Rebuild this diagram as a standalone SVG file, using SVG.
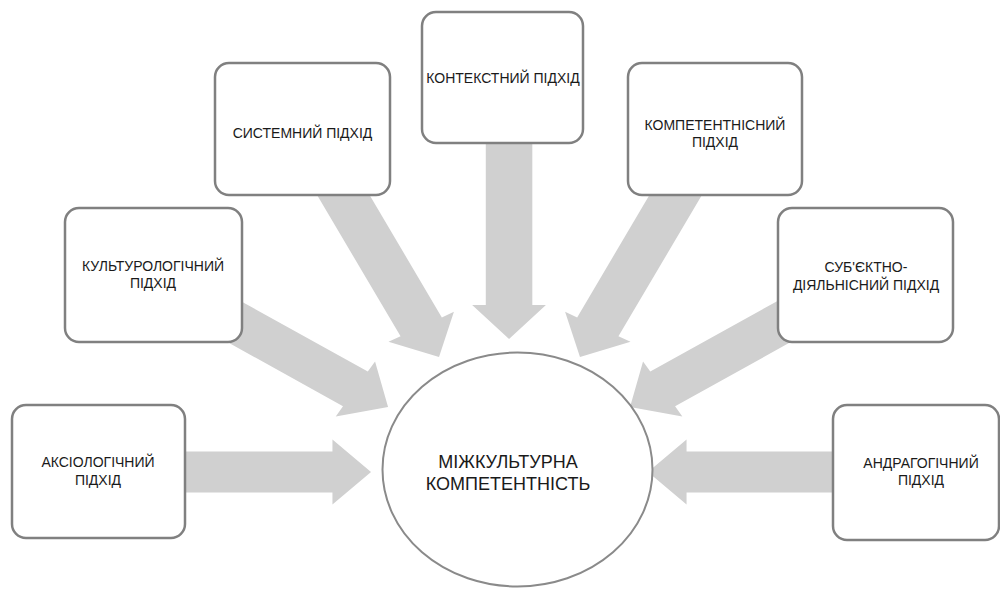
<svg xmlns="http://www.w3.org/2000/svg" width="1000" height="589" viewBox="0 0 1000 589">
<style>
.arr{fill:#d0d0d0;}
.box{fill:#ffffff;stroke:#808080;stroke-width:2.5;}
.hub{fill:#ffffff;stroke:#8a8a8a;stroke-width:2;}
.t{font-family:"Liberation Sans",Arial,sans-serif;font-size:14px;fill:#1a1a1a;text-anchor:middle;}
.tc{font-family:"Liberation Sans",Arial,sans-serif;font-size:18px;fill:#1a1a1a;text-anchor:middle;}
</style>
<rect width="1000" height="589" fill="#ffffff"/>
<g id="connectors" transform="scale(1.135 1)">
  <path class="arr" transform="translate(326.9 472)" d="M0,0 L-34,-32.5 L-34,-20.5 L-180,-20.5 L-180,20.5 L-34,20.5 L-34,32.5 Z"/>
  <path class="arr" transform="translate(570.9 472) rotate(180)" d="M0,0 L-34,-32.5 L-34,-20.5 L-180,-20.5 L-180,20.5 L-34,20.5 L-34,32.5 Z"/>
  <path class="arr" transform="translate(341.9 407) rotate(32.2)" d="M0,0 L-34,-32.5 L-34,-20.5 L-175,-20.5 L-175,20.5 L-34,20.5 L-34,32.5 Z"/>
  <path class="arr" transform="translate(555.1 407) rotate(147.8)" d="M0,0 L-34,-32.5 L-34,-20.5 L-175,-20.5 L-175,20.5 L-34,20.5 L-34,32.5 Z"/>
  <path class="arr" transform="translate(386.8 357) rotate(62.5)" d="M0,0 L-34,-32.5 L-34,-20.5 L-199.5,-20.5 L-199.5,20.5 L-34,20.5 L-34,32.5 Z"/>
  <path class="arr" transform="translate(511 357) rotate(117.5)" d="M0,0 L-34,-32.5 L-34,-20.5 L-199.5,-20.5 L-199.5,20.5 L-34,20.5 L-34,32.5 Z"/>
  <path class="arr" transform="translate(448.5 339) rotate(90)" d="M0,0 L-34,-32.5 L-34,-20.5 L-209,-20.5 L-209,20.5 L-34,20.5 L-34,32.5 Z"/>
</g>
<g id="node-aksiolohichnyi">
  <rect class="box" x="12" y="405" width="173" height="133" rx="14"/>
  <text class="t" x="98" y="467">АКСІОЛОГІЧНИЙ</text>
  <text class="t" x="98" y="485">ПІДХІД</text>
</g>
<g id="node-kulturolohichnyi">
  <rect class="box" x="65" y="208" width="177" height="134" rx="14"/>
  <text class="t" x="153" y="271">КУЛЬТУРОЛОГІЧНИЙ</text>
  <text class="t" x="153" y="288">ПІДХІД</text>
</g>
<g id="node-systemnyi">
  <rect class="box" x="215" y="63" width="175" height="132" rx="14"/>
  <text class="t" x="302.5" y="138">СИСТЕМНИЙ ПІДХІД</text>
</g>
<g id="node-kontekstnyi">
  <rect class="box" x="422" y="12" width="161" height="131" rx="14"/>
  <text class="t" x="503" y="83">КОНТЕКСТНИЙ ПІДХІД</text>
</g>
<g id="node-kompetentnisnyi">
  <rect class="box" x="628" y="63" width="174" height="132" rx="14"/>
  <text class="t" x="715" y="130">КОМПЕТЕНТНІСНИЙ</text>
  <text class="t" x="715" y="147">ПІДХІД</text>
</g>
<g id="node-subiektno">
  <rect class="box" x="778" y="208" width="175" height="134" rx="14"/>
  <text class="t" x="866" y="272">СУБ'ЄКТНО-</text>
  <text class="t" x="866" y="290">ДІЯЛЬНІСНИЙ ПІДХІД</text>
</g>
<g id="node-andrahohichnyi">
  <rect class="box" x="833" y="405" width="166" height="135" rx="14"/>
  <text class="t" x="921" y="468">АНДРАГОГІЧНИЙ</text>
  <text class="t" x="921" y="485">ПІДХІД</text>
</g>
<g id="node-mizhkulturna">
  <ellipse class="hub" cx="517.5" cy="469.5" rx="135" ry="117"/>
  <text class="tc" x="508" y="468">МІЖКУЛЬТУРНА</text>
  <text class="tc" x="508" y="490">КОМПЕТЕНТНІСТЬ</text>
</g>
</svg>
